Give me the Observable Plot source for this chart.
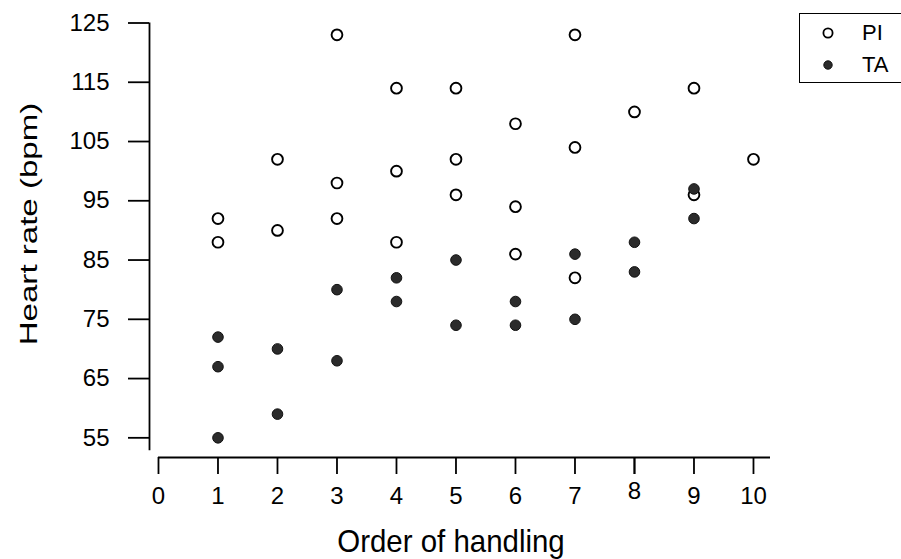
<!DOCTYPE html>
<html>
<head>
<meta charset="utf-8">
<script src="https://cdn.jsdelivr.net/npm/d3@7"></script>
<script src="https://cdn.jsdelivr.net/npm/@observablehq/plot@0.6"></script>
<style>
  html, body { margin: 0; padding: 0; background: #fff; overflow: hidden; }
  #wrap { position: relative; width: 901px; height: 559px; font-family: "Liberation Sans", Arial, sans-serif; }
  #legend { position: absolute; left: 799px; top: 13px; width: 120px; height: 70px; border: 1.5px solid #000; box-sizing: border-box; }
  .item { position: absolute; left: 0; height: 24px; font-size: 22px; color: #000; }
  .item svg { position: absolute; left: 16px; top: 0; }
  .item span { position: absolute; left: 62px; top: 0; white-space: nowrap; line-height: 24px; }
  .title { position: absolute; white-space: nowrap; color: #000; line-height: 1; }
  #ytitle { left: 29px; top: 224px; font-size: 24.5px; transform: translate(-50%, -50%) rotate(-90deg) scaleX(1.35); }
  #xtitle { left: 451px; top: 525px; font-size: 32px; transform: translateX(-50%) scaleX(0.92); }
</style>
</head>
<body>
<div id="wrap">
  <div id="legend"></div>
  <div id="ytitle" class="title"></div>
  <div id="xtitle" class="title"></div>
</div>
<script>
// ---- data ----
const seriesNames = ["PI", "TA"];
const piOrder = [1, 1, 2, 2, 3, 3, 3, 4, 4, 4, 5, 5, 5, 6, 6, 6, 7, 7, 7, 8, 9, 9, 10];
const piRate  = [92, 88, 102, 90, 123, 98, 92, 114, 100, 88, 114, 102, 96, 108, 94, 86, 123, 104, 82, 110, 114, 96, 102];
const taOrder = [1, 1, 1, 2, 2, 3, 3, 4, 4, 5, 5, 6, 6, 7, 7, 8, 8, 9, 9];
const taRate  = [72, 67, 55, 70, 59, 80, 68, 82, 78, 85, 74, 78, 74, 86, 75, 88, 83, 97, 92];
const xTicks = [0, 1, 2, 3, 4, 5, 6, 7, 8, 9, 10];
const yTicks = [55, 65, 75, 85, 95, 105, 115, 125];
const raisedTick = [8];
const xTitle = "Order of handling";
const yTitle = "Heart rate (bpm)";

const pi = piOrder.map((x, i) => ({x, y: piRate[i], s: seriesNames[0]}));
const ta = taOrder.map((x, i) => ({x, y: taRate[i], s: seriesNames[1]}));

const xDomain = [-0.151, 10.286];
const yDomain = [51.68, 125];
const yAxisBottom = 52.8;

const chart = Plot.plot({
  width: 901,
  height: 559,
  marginLeft: 149,
  marginRight: 131,
  marginTop: 22.5,
  marginBottom: 102,
  style: {fontFamily: "'Liberation Sans', Arial, sans-serif", background: "#fff", color: "#000"},
  x: {domain: xDomain, axis: null},
  y: {domain: yDomain, axis: null},
  marks: [
    Plot.ruleX([xDomain[0]], {y1: yAxisBottom, y2: yDomain[1], stroke: "#000", strokeWidth: 1.8}),
    Plot.ruleY([yDomain[0]], {x1: 0, x2: xDomain[1], stroke: "#000", strokeWidth: 1.8}),
    Plot.axisY({ticks: yTicks, anchor: "left", tickSize: 21, tickPadding: 19, fontSize: 24, strokeWidth: 1.8, label: null}),
    Plot.axisX({ticks: xTicks, anchor: "bottom", tickSize: 17, tickPadding: 12, fontSize: 24, strokeWidth: 1.8, label: null,
      tickFormat: d => raisedTick.includes(d) ? "" : String(d)}),
    Plot.axisX({ticks: raisedTick, anchor: "bottom", tickSize: 17, tickPadding: 7, fontSize: 24, strokeWidth: 1.8, label: null}),
    Plot.dot(pi, {x: "x", y: "y", r: 5.4, stroke: "#000", strokeWidth: 1.9, fill: "#fff"}),
    Plot.dot(ta, {x: "x", y: "y", r: 5.3, stroke: "#111", strokeWidth: 1, fill: "#2b2b2b"})
  ]
});
document.getElementById("wrap").prepend(chart);

document.getElementById("ytitle").textContent = yTitle;
document.getElementById("xtitle").textContent = xTitle;

// legend
const legend = document.getElementById("legend");
seriesNames.forEach((name, i) => {
  const item = document.createElement("div");
  item.className = "item";
  item.style.top = (i === 0 ? 7 : 39) + "px";
  const open = i === 0;
  item.innerHTML = `<svg width="24" height="24"><circle cx="12" cy="12" r="${open ? 4.6 : 4.2}" fill="${open ? "#fff" : "#2b2b2b"}" stroke="${open ? "#000" : "#111"}" stroke-width="${open ? 1.8 : 1}"/></svg><span>${name}</span>`;
  legend.appendChild(item);
});
</script>
</body>
</html>
